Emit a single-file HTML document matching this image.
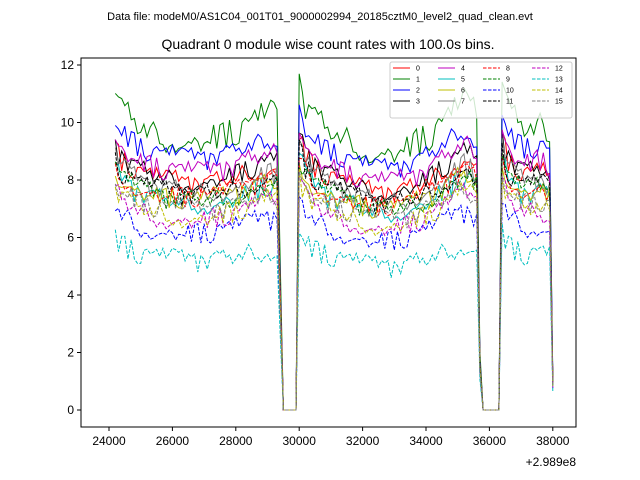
<!DOCTYPE html>
<html><head><meta charset="utf-8"><style>
body{margin:0;background:#fff;}
svg{font-family:"Liberation Sans","DejaVu Sans",sans-serif;display:block}
</style></head><body>
<svg id="chart" width="640" height="480" viewBox="0 0 640 480">
<rect width="640" height="480" fill="#fff"/>
<text x="320" y="20" text-anchor="middle" font-size="11">Data file: modeM0/AS1C04_001T01_9000002994_20185cztM0_level2_quad_clean.evt</text>
<text x="328" y="49" text-anchor="middle" font-size="14">Quadrant 0 module wise count rates with 100.0s bins.</text>
<g id="series"></g>
<rect x="81" y="58" width="495" height="369" fill="none" stroke="#000" stroke-width="1"/>
<g id="axes"></g>
<text x="576" y="466" text-anchor="end" font-size="12">+2.989e8</text>
<g id="legend"></g>
</svg>
<script>
const t0 = 24200, dt = 100;
const shape = [1.10,1.08,1.06,1.05,1.04,1.03,1.02,1.01,1.00,1.00,
0.99,0.99,0.98,0.98,0.98,0.97,0.97,0.97,0.97,0.97,
0.97,0.96,0.96,0.96,0.96,0.96,0.96,0.96,0.96,0.96,
0.96,0.97,0.97,0.97,0.97,0.98,0.98,0.98,0.99,0.99,
1.00,1.00,1.01,1.01,1.02,1.02,1.03,1.03,1.04,1.04,
1.04,1.03,0.5,
0,0,0,0,0,
1.16,1.12,1.08,1.06,1.04,1.03,1.02,1.01,1.00,0.99,
0.99,0.98,0.97,0.97,0.96,0.96,0.95,0.95,0.94,0.94,
0.93,0.93,0.93,0.92,0.92,0.92,0.92,0.92,0.92,0.92,
0.92,0.92,0.93,0.93,0.93,0.94,0.94,0.95,0.95,0.96,
0.97,0.97,0.98,0.99,1.00,1.01,1.02,1.03,1.04,1.05,
1.06,1.07,1.08,1.07,1.06,1.05,1.04,0.2,
0,0,0,0,0,0,
1.14,1.10,1.06,1.04,1.03,1.02,1.01,1.00,1.00,1.00,1.00,1.01,1.01,1.00,0.99,0.98,0.12];
const levels = [8.2,9.8,9.1,8.3,8.6,7.5,7.6,7.9,7.7,7.6,6.4,7.8,6.9,5.4,7.0,7.2];
const noise = [0.3,-0.2,0.1,-0.4,0.25,0.05,-0.3,0.35,-0.1,0.2,-0.25,0.4,-0.05,0.15,-0.35,0.1,0.3,-0.2,0.0,-0.3,
0.2,0.35,-0.15,0.05,-0.4,0.25,-0.1,0.3,-0.25,0.1,0.4,-0.3,0.15,-0.05,0.2,-0.35,0.3,0.05,-0.2,0.25,
-0.1,0.35,-0.3,0.1,0.2,-0.15,-0.4,0.3,0.0,0.15,-0.25,0.4,-0.05,0.2,-0.3,0.1,0.25,-0.2,0.35,-0.1,0.05];
const xTicks = [24000,26000,28000,30000,32000,34000,36000,38000];
const yTicks = [0,2,4,6,8,10,12];
const colors = ['#ff0000','#008000','#0000ff','#000000','#bf00bf','#00bfbf','#bfbf00','#808080'];
const NS="http://www.w3.org/2000/svg";
function xp(t){return 109+(t-24000)*0.0317;}
function yp(v){return 410-v*28.75;}
const sg=document.getElementById('series');
for(let s=0;s<16;s++){
  let pts=[];
  for(let i=0;i<shape.length;i++){
    const v=levels[s]*shape[i]+noise[(i*7+s*13)%noise.length]*shape[i]*(s===1?1.4:1);
    pts.push(xp(t0+i*dt).toFixed(1)+','+yp(v).toFixed(1));
  }
  const p=document.createElementNS(NS,'polyline');
  p.setAttribute('points',pts.join(' '));
  p.setAttribute('fill','none');
  p.setAttribute('stroke',colors[s%8]);
  p.setAttribute('stroke-width','1');
  if(s>=8)p.setAttribute('stroke-dasharray','3.5,1.5');
  
  
  sg.appendChild(p);
}
const ax=document.getElementById('axes');
xTicks.forEach(t=>{
  const x=xp(t);
  const l=document.createElementNS(NS,'line');
  l.setAttribute('x1',x);l.setAttribute('x2',x);l.setAttribute('y1',427);l.setAttribute('y2',431);l.setAttribute('stroke','#000');
  
  
  ax.appendChild(l);
  const tx=document.createElementNS(NS,'text');
  tx.setAttribute('x',x);tx.setAttribute('y',445);tx.setAttribute('text-anchor','middle');tx.setAttribute('font-size','12');
  tx.textContent=t;
  
  
  ax.appendChild(tx);
});
yTicks.forEach(v=>{
  const y=yp(v);
  const l=document.createElementNS(NS,'line');
  l.setAttribute('x1',77);l.setAttribute('x2',81);l.setAttribute('y1',y);l.setAttribute('y2',y);l.setAttribute('stroke','#000');
  
  
  ax.appendChild(l);
  const tx=document.createElementNS(NS,'text');
  tx.setAttribute('x',74);tx.setAttribute('y',y+4);tx.setAttribute('text-anchor','end');tx.setAttribute('font-size','12');
  tx.textContent=v;
  
  
  ax.appendChild(tx);
});
const lg=document.getElementById('legend');
const bx=document.createElementNS(NS,'rect');
bx.setAttribute('x',390);bx.setAttribute('y',62);bx.setAttribute('width',182);bx.setAttribute('height',56);bx.setAttribute('rx',2);
bx.setAttribute('fill','#fff');bx.setAttribute('fill-opacity','0.8');bx.setAttribute('stroke','#ccc');


lg.appendChild(bx);
const colX=[393,438,483,532];
for(let s=0;s<16;s++){
  const cx=colX[Math.floor(s/4)], cy=68+(s%4)*11;
  const l=document.createElementNS(NS,'line');
  l.setAttribute('x1',cx);l.setAttribute('x2',cx+17);l.setAttribute('y1',cy);l.setAttribute('y2',cy);
  l.setAttribute('stroke',colors[s%8]);
  if(s>=8)l.setAttribute('stroke-dasharray','3.5,1.5');
  
  
  lg.appendChild(l);
  const tx=document.createElementNS(NS,'text');
  tx.setAttribute('x',cx+23);tx.setAttribute('y',cy+2.5);tx.setAttribute('font-size','7');
  tx.textContent=s;
  
  
  lg.appendChild(tx);
}
</script>
</body></html>
